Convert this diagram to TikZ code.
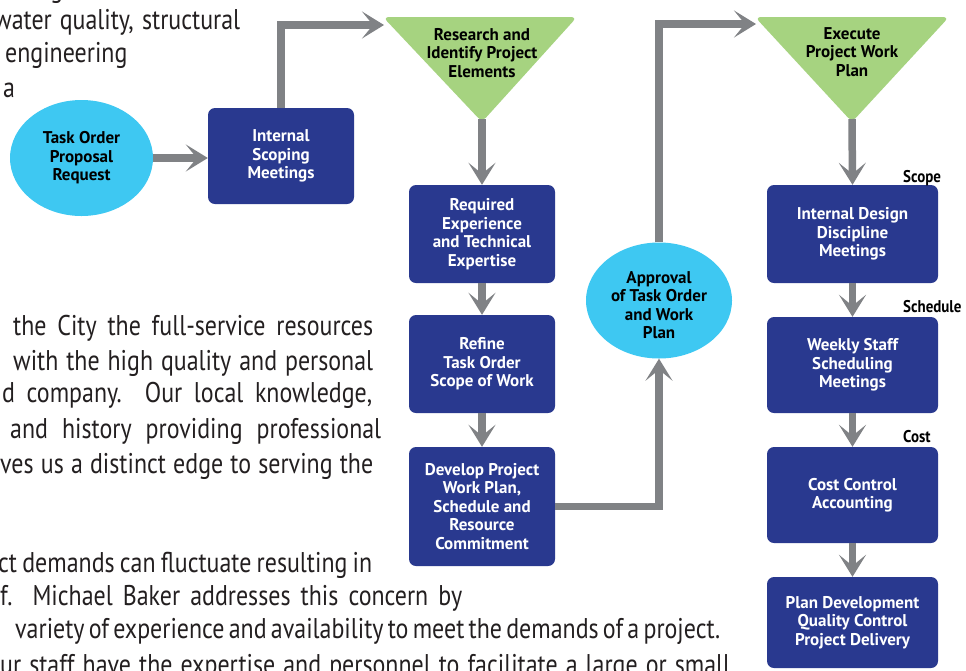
\documentclass[tikz,border=0pt]{standalone}
\usepackage{fontspec}
\setmainfont{PT Sans}
\newfontfamily\bodyfont[FakeStretch=0.84]{PT Sans}
\newfontfamily\boxfont{PT Sans}
\newfontfamily\labfont[FakeStretch=0.88]{PT Sans}
\usetikzlibrary{arrows.meta,shapes.geometric}
\definecolor{mbgray}{RGB}{128,130,133}
\definecolor{mbblue}{RGB}{41,57,143}
\definecolor{mbcyan}{RGB}{62,200,242}
\definecolor{mbgreen}{RGB}{166,211,128}
\definecolor{mbtext}{RGB}{35,31,32}
\tikzset{
  bodytext/.style={font=\bodyfont\fontsize{28.5}{33}\selectfont, text=mbtext, inner sep=0pt, anchor=base west},
  boxtext/.style={font=\boxfont\bfseries\fontsize{17}{18.5}\selectfont, align=center, inner sep=0pt},
  bluebox/.style={boxtext, fill=mbblue, rounded corners=7pt, text=white},
  cyanell/.style={ellipse, fill=mbcyan, inner sep=0pt},
  darktext/.style={boxtext, text=black},
  greentri/.style={fill=mbgreen, rounded corners=6pt},
  flow/.style={draw=mbgray, line width=7.5pt, -{Stealth[length=22pt,width=27pt,inset=11pt]}},
  sidelabel/.style={font=\labfont\bfseries\fontsize{17}{18}\selectfont, text=black, anchor=base west, inner sep=0pt}
}
\begin{document}
\begin{tikzpicture}[x=1pt,y=-1pt]
\useasboundingbox (0,0) rectangle (966,670);
\clip (0,0) rectangle (966,670);
\fill[white] (0,0) rectangle (966,670);

% background paragraph text
\node[bodytext] (bt0) at (50,-3) {g};
\node[bodytext] (bt1) at (-6,29) {\makebox[246pt][s]{water quality, structural}};
\node[bodytext] (bt2) at (5,62) {engineering};
\node[bodytext] (bt3) at (3,97) {a};
\node[bodytext] (bt4) at (13,335) {\makebox[360pt][s]{the City the full-service resources}};
\node[bodytext] (bt5) at (13,370) {\makebox[360pt][s]{with the high quality and personal}};
\node[bodytext] (bt6) at (2,402) {\makebox[370pt][s]{d company.\ \ Our local knowledge,}};
\node[bodytext] (bt7) at (10,438) {\makebox[371pt][s]{and history providing professional}};
\node[bodytext] (bt8) at (0,473) {\makebox[373pt][s]{ves us a distinct edge to serving the}};
\node[bodytext] (bt9) at (-2,572) {\makebox[374pt][s]{ct demands can fluctuate resulting in}};
\node[bodytext] (bt10) at (0,605) {\makebox[462pt][s]{f.\ \ Michael Baker addresses this concern by}};
\node[bodytext] (bt11) at (15,638) {\makebox[705pt][s]{variety of experience and availability to meet the demands of a project.}};
\node[bodytext] (bt12) at (0,674) {\makebox[730pt][s]{ur staff have the expertise and personnel to facilitate a large or small}};

% left ellipse and scoping box
\node[cyanell, minimum width=143pt, minimum height=116pt] (req0) at (81.5,158) {};
\node[darktext] (req0t) at (81.5,158) {Task Order\\Proposal\\Request};
\node[bluebox, minimum width=146pt, minimum height=96pt] (scoping) at (281,156) {Internal\\Scoping\\Meetings};

% triangle 1
\fill[greentri] (383,17) -- (577,17) -- (482,122) -- cycle;
\coordinate (t1apex) at (482,119);
\coordinate (t1in) at (384,25);
\node[darktext] (t1t) at (482,53) {Research and\\Identify Project\\Elements};

% middle column
\node[bluebox, minimum width=146pt, minimum height=98pt] (reqexp) at (482,234) {Required\\Experience\\and Technical\\Expertise};
\node[bluebox, minimum width=146pt, minimum height=98pt] (refine) at (482,364) {Refine\\Task Order\\Scope of Work};
\node[bluebox, minimum width=146pt, minimum height=119pt] (develop) at (482,506.5) {Develop Project\\Work Plan,\\Schedule and\\Resource\\Commitment};

% approval ellipse
\node[cyanell, minimum width=146pt, minimum height=116pt] (appr) at (659,300.5) {};
\node[darktext] (apprt) at (659,305) {Approval\\of Task Order\\and Work\\Plan};

% triangle 2
\fill[greentri] (755,17) -- (949,17) -- (852,122) -- cycle;
\coordinate (t2apex) at (852,119);
\coordinate (t2in) at (756,24);
\node[darktext] (t2t) at (852,52) {Execute\\Project Work\\Plan};

% right column
\node[bluebox, minimum width=171pt, minimum height=98pt] (design) at (852.5,234) {Internal Design\\Discipline\\Meetings};
\node[bluebox, minimum width=171pt, minimum height=96pt] (weekly) at (852.5,365) {Weekly Staff\\Scheduling\\Meetings};
\node[bluebox, minimum width=171pt, minimum height=96pt] (cost) at (852.5,495) {Cost Control\\Accounting};
\node[bluebox, minimum width=171pt, minimum height=91pt] (plan) at (852.5,622.5) {Plan Development\\Quality Control\\Project Delivery};

\node[sidelabel] (lscope) at (903,182) {Scope};
\node[sidelabel] (lsched) at (903,312) {Schedule};
\node[sidelabel] (lcost) at (903,442) {Cost};

% connectors
\draw[flow] (req0.east) -- (req0.east -| scoping.west);
\draw[flow] (scoping.north) |- (t1in);
\draw[flow] (t1apex) -- (reqexp.north);
\draw[flow] (reqexp.south) -- (refine.north);
\draw[flow] (refine.south) -- (develop.north);
\draw[flow] (develop.east) -| (appr.south);
\draw[flow] (appr.north) |- (t2in);
\draw[flow] (t2apex) -- (design.north);
\draw[flow] (design.south) -- (weekly.north);
\draw[flow] (weekly.south) -- (cost.north);
\draw[flow] (cost.south) -- (plan.north);
\end{tikzpicture}
\end{document}
